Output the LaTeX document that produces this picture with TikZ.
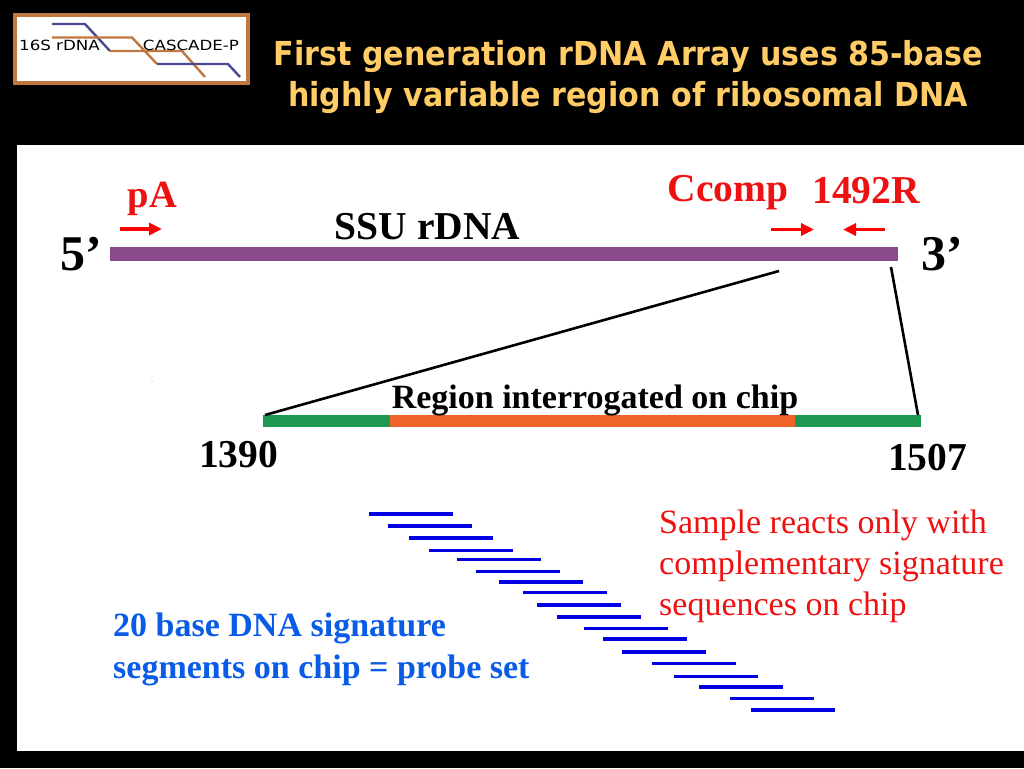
\documentclass[tikz,border=0pt]{standalone}
\usepackage{fontspec}
\setmainfont{Liberation Serif}
\newfontfamily\titlefont{DejaVu Sans}
\newfontfamily\logofont{DejaVu Sans}
\usetikzlibrary{arrows.meta}
\definecolor{titlegold}{HTML}{FFCC66}
\definecolor{logobrown}{HTML}{C07840}
\definecolor{logoblue}{HTML}{4A4A90}
\definecolor{ssupurple}{HTML}{8B4A8B}
\definecolor{regiongreen}{HTML}{1E9850}
\definecolor{regionorange}{HTML}{EE6428}
\definecolor{probeblue}{HTML}{0000E0}
\definecolor{notered}{HTML}{EE1111}
\definecolor{noteblue}{HTML}{0A5CE6}
\newcommand{\px}[1]{\fontsize{#1}{#1}\selectfont}
\newcommand{\titletext}[1]{\scalebox{0.913}[1]{#1}}
\tikzset{
  label/.style={anchor=base, inner sep=0pt, font=\px{39.5}\bfseries},
  primer/.style={-{Triangle[length=13pt,width=12pt]}, red, line width=3.5pt},
  probe/.style={probeblue, line width=3.5pt},
  zoomline/.style={black, line width=2.6pt},
  logoline/.style={line width=2.4pt},
  titleline/.style={anchor=base, inner sep=0pt, text=titlegold, font=\titlefont\px{33}\bfseries},
}
\begin{document}
\begin{tikzpicture}[x=1pt,y=-1pt]
  \fill[black] (0,0) rectangle (1024,768);
  \useasboundingbox (0,0) rectangle (1024,768);
  \fill[white] (17,145) rectangle (1024,751);
  % Logo
  \draw[logobrown, line width=4pt, fill=white] (15,15) rectangle (248,83);
  \draw[logoblue, logoline] (52,24) -- (85,24) -- (110,51);
  \draw[logobrown, logoline] (110,51) -- (182,51) -- (205,77);
  \draw[logobrown, logoline] (52,37.5) -- (132,37.5) -- (157,64);
  \draw[logoblue, logoline] (157,64) -- (228,64) -- (240,77);
  \node[inner sep=0pt, font=\logofont\px{14}] (logoleft) at (59.5,45) {\scalebox{1.19}[1]{16S rDNA}};
  \node[inner sep=0pt, font=\logofont\px{14}] (logoright) at (191,45) {\scalebox{1.19}[1]{CASCADE-P}};
  % Title
  \node[titleline] (titleone) at (628.5,65) {\titletext{First generation rDNA Array uses 85-base}};
  \node[titleline] (titletwo) at (628,106) {\titletext{highly variable region of ribosomal DNA}};
  % SSU bar
  \fill[ssupurple] (110,247) rectangle (898,261);
  \node[label] (ssu) at (427.5,239) {SSU rDNA};
  \node[label, font=\px{50}\bfseries] (five) at (81,270) {5’};
  \node[label, font=\px{50}\bfseries] (three) at (942,270) {3’};
  % Primers
  \node[label, font=\px{38.5}\bfseries, text=notered] (pa) at (152.5,207) {pA};
  \node[label, text=notered] (ccomp) at (728,201) {Ccomp};
  \node[label, text=notered] (rev) at (866,203) {1492R};
  \coordinate (pastart) at (120,229);
  \coordinate (paend) at (162,229);
  \coordinate (ccstart) at (771,229.5);
  \coordinate (ccend) at (814,229.5);
  \coordinate (revstart) at (885,229.5);
  \coordinate (revend) at (843,229.5);
  \draw[primer] (pastart) -- (paend);
  \draw[primer] (ccstart) -- (ccend);
  \draw[primer] (revstart) -- (revend);
  % Region bar
  \fill[regiongreen] (263,415) rectangle (921,427);
  \fill[regionorange] (390,415) rectangle (795,427);
  \coordinate (barleft) at (779,271);
  \coordinate (barright) at (891,267);
  \coordinate (regleft) at (265,415);
  \coordinate (regright) at (918,415);
  \draw[zoomline] (barleft) -- (regleft);
  \draw[zoomline] (barright) -- (regright);
  \fill[black!60] (152,381) circle (0.5pt);
  \node[label, font=\px{34}\bfseries] (region) at (595,408) {Region interrogated on chip};
  \node[label] (start) at (238.5,467) {1390};
  \node[label] (stop) at (927.5,470) {1507};
  % Probes
  \foreach \x/\y in {369/514, 388/526, 409/538, 429/550.5, 457/559.5, 476/571.5,
    499/582, 523/592.5, 537/605, 557/617, 584/628.5, 603/639, 622/652,
    652/663.5, 674/676.5, 699/687, 730/698.5, 751/710} {
    \draw[probe] (\x,\y) -- (\x+84,\y);
  }
  % Notes
  \node[anchor=base west, inner sep=0pt, text=notered, font=\px{34}] (noteone) at (659,533) {Sample reacts only with};
  \node[anchor=base west, inner sep=0pt, text=notered, font=\px{34}] (notetwo) at (659,574) {complementary signature};
  \node[anchor=base west, inner sep=0pt, text=notered, font=\px{34}] (notethree) at (659,615) {sequences on chip};
  \node[anchor=base west, inner sep=0pt, text=noteblue, font=\px{34}\bfseries] (probeone) at (113,636) {20 base DNA signature};
  \node[anchor=base west, inner sep=0pt, text=noteblue, font=\px{34}\bfseries] (probetwo) at (113,678) {segments on chip = probe set};
\end{tikzpicture}
\end{document}
